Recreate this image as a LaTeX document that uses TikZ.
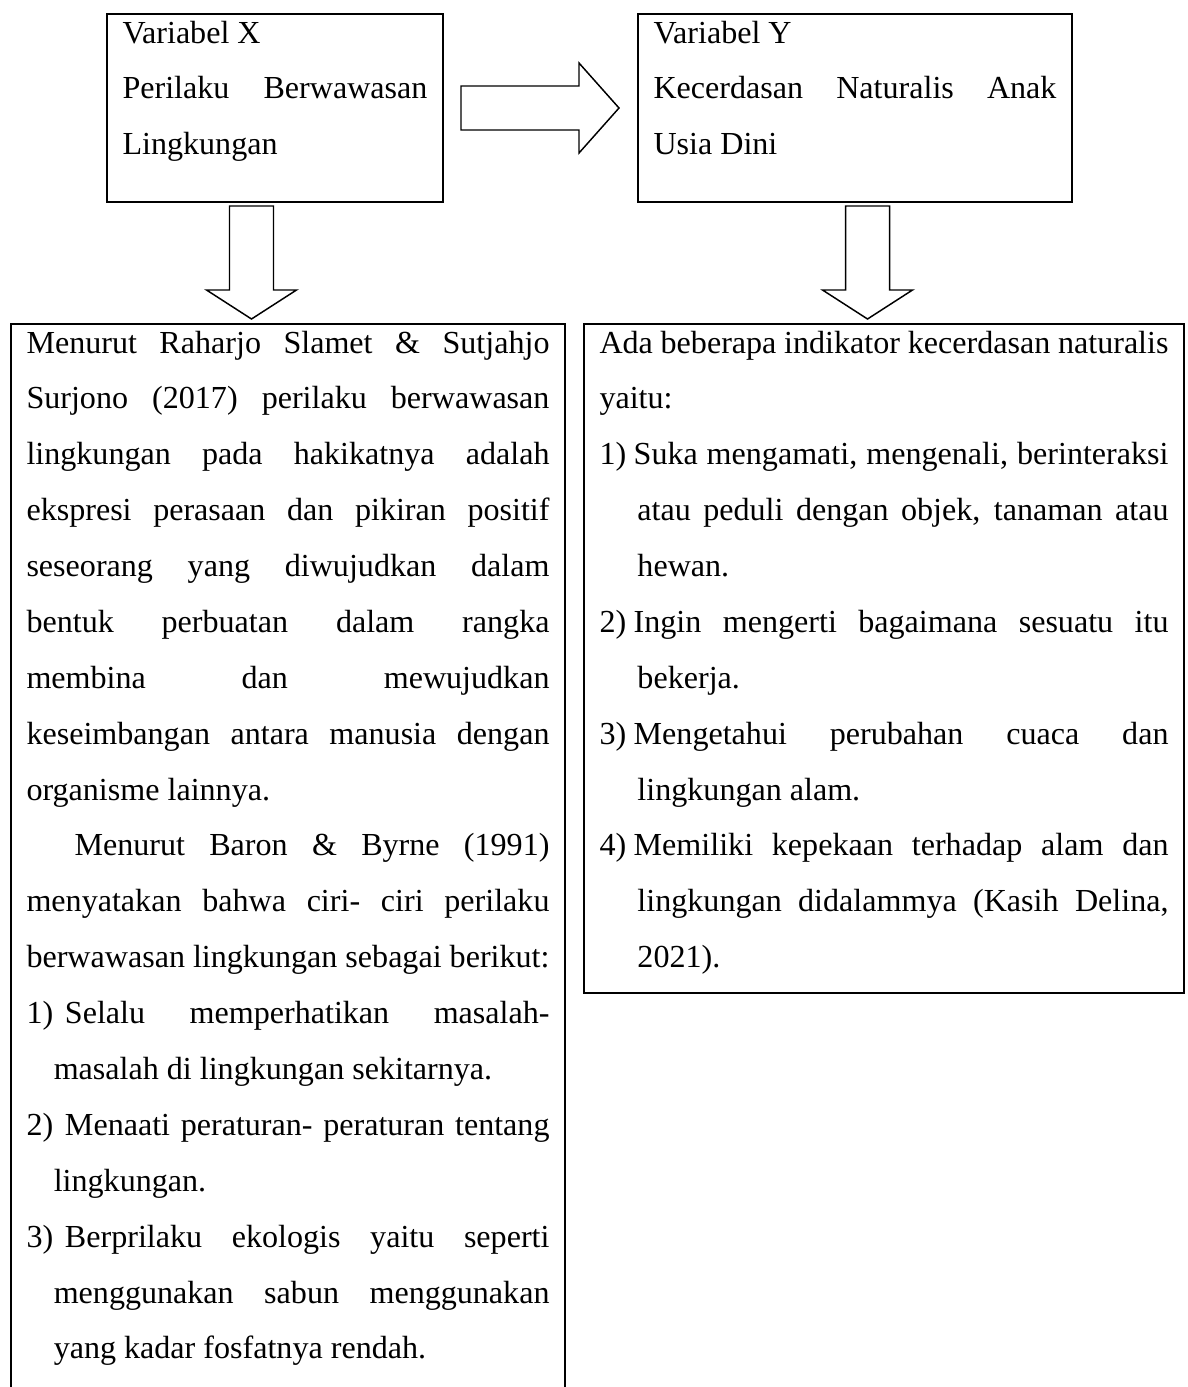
\documentclass[tikz,border=0pt]{standalone}
\usepackage{fontspec}
\setmainfont{Liberation Serif}
\usetikzlibrary{calc}

\hbadness=10000
\vbadness=10000

% box contents: height, width, text (top aligned, first baseline fixed)
\newcommand{\isibox}[3]{\parbox[t][#1][t]{#2}{\tolerance=10000\rule{0pt}{10.85pt}#3}}
% numbered point: label width, hanging indent, label
\newcommand{\butir}[3]{\par\hangindent=#2\hangafter=1\noindent\makebox[#1][l]{#3}}

\begin{document}
\begin{tikzpicture}[x=0.374pt, y=0.374pt,
  varbox/.style={draw, line width=0.75pt, inner xsep=5.8pt, inner ysep=0pt,
    anchor=north west, font=\fontsize{12}{20.9}\selectfont},
  hollow/.style={draw, line width=0.55pt, fill=white, line join=miter},
  pics/bigarrow/.style 2 args={code={
    \draw[hollow] (0,22) -- (#1,22) -- (#1,45) -- (#2,0) -- (#1,-45)
      -- (#1,-22) -- (0,-22) -- cycle;}}]

\useasboundingbox (0,0) rectangle (1188,-1387);
\clip (0,0) rectangle (1188,-1387);

% Variables
\node[varbox] (varX) at (106,-13) {\isibox{70.31pt}{114.06pt}{%
  Variabel X\par
  Perilaku Berwawasan\linebreak
  Lingkungan}};

\node[varbox] (varY) at (637,-13) {\isibox{70.31pt}{150.72pt}{%
  Variabel Y\par
  Kecerdasan Naturalis Anak\linebreak
  Usia Dini}};

% Theory X (box runs past the page bottom)
\node[varbox] (teoriX) at (10,-323) {\isibox{401.7pt}{195.6pt}{%
  Menurut Raharjo Slamet \& Sutjahjo\linebreak
  Surjono (2017) perilaku berwawasan\linebreak
  lingkungan pada hakikatnya adalah\linebreak
  ekspresi perasaan dan pikiran positif\linebreak
  seseorang yang diwujudkan dalam\linebreak
  bentuk perbuatan dalam rangka\linebreak
  membina dan mewujudkan\linebreak
  keseimbangan antara manusia dengan\linebreak
  organisme lainnya.\par
  \hspace*{17.95pt}Menurut Baron \& Byrne (1991)\linebreak
  menyatakan bahwa ciri- ciri perilaku\linebreak
  berwawasan lingkungan sebagai berikut:
  \butir{14.4pt}{10.2pt}{1)}Selalu memperhatikan masalah-\linebreak
  masalah di lingkungan sekitarnya.
  \butir{14.4pt}{10.2pt}{2)}Menaati peraturan- peraturan tentang\linebreak
  lingkungan.
  \butir{14.4pt}{10.2pt}{3)}Berprilaku ekologis yaitu seperti\linebreak
  menggunakan sabun menggunakan\linebreak
  yang kadar fosfatnya rendah.}};

% Theory Y
\node[varbox] (teoriY) at (583,-323) {\isibox{250.2pt}{212.8pt}{%
  Ada beberapa indikator kecerdasan naturalis\linebreak
  yaitu:
  \butir{12.8pt}{14.2pt}{1)}Suka mengamati, mengenali, berinteraksi\linebreak
  atau peduli dengan objek, tanaman atau\linebreak
  hewan.
  \butir{12.8pt}{14.2pt}{2)}Ingin mengerti bagaimana sesuatu itu\linebreak
  bekerja.
  \butir{12.8pt}{14.2pt}{3)}Mengetahui perubahan cuaca dan\linebreak
  lingkungan alam.
  \butir{12.8pt}{14.2pt}{4)}Memiliki kepekaan terhadap alam dan\linebreak
  lingkungan didalammya (Kasih Delina,\linebreak
  2021).}};

% Arrows
\pic at ($(varX.east)+(17,0)$) {bigarrow={118}{158}};
\pic[rotate=-90] at ($(varX.south)+(-23.5,-3)$) {bigarrow={84}{113}};
\pic[rotate=-90] at ($(varY.south)+(12.5,-3)$) {bigarrow={84}{113}};

\end{tikzpicture}
\end{document}
